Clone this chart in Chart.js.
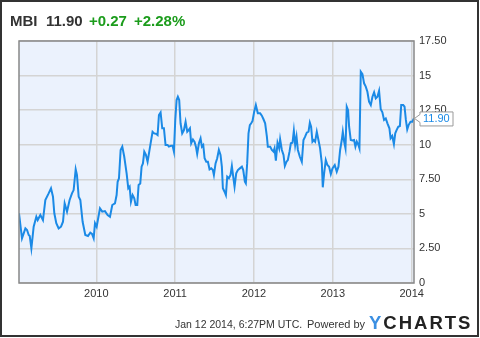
<!DOCTYPE html>
<html>
<head>
<meta charset="utf-8">
<script src="https://cdn.jsdelivr.net/npm/chart.js@4"></script>
<style>
  html, body { margin:0; padding:0; background:#fff; }
  #wrap { position:relative; width:480px; height:338px; overflow:hidden; font-family:"Liberation Sans", Arial, sans-serif; }
  #frame { position:absolute; left:0; top:0; width:475px; height:333px; border:2px solid #333; }
  canvas { position:absolute; left:0; top:0; }
  .t { position:absolute; white-space:nowrap; line-height:1; }
</style>
</head>
<body>
<div id="wrap">
  <canvas id="c" width="480" height="338"></canvas>
  <div id="frame"></div>
  <div class="t" style="left:10px;top:13px;font-size:15px;font-weight:bold;color:#333;">MBI</div>
  <div class="t" style="left:46px;top:13px;font-size:15px;font-weight:bold;color:#333;">11.90</div>
  <div class="t" style="left:89px;top:13px;font-size:15px;font-weight:bold;color:#1c9c1c;">+0.27</div>
  <div class="t" style="left:134px;top:13px;font-size:15px;font-weight:bold;color:#1c9c1c;">+2.28%</div>
  <div class="t" style="left:175px;top:319px;font-size:10.5px;color:#333;">Jan 12 2014, 6:27PM UTC.</div>
  <div class="t" style="left:307px;top:319px;font-size:11px;color:#333;">Powered by</div>
  <div class="t" style="left:369px;top:314px;font-size:18.5px;font-weight:bold;letter-spacing:2px;"><span style="color:#3b8fe2;">Y</span><span style="color:#222;">CHARTS</span></div>
</div>
<script>
const dates = [
  2009.020, 2009.058, 2009.101, 2009.122, 2009.143, 2009.156, 2009.177, 2009.206, 2009.240, 2009.257,
  2009.291, 2009.324, 2009.354, 2009.396, 2009.426, 2009.451, 2009.468, 2009.493, 2009.523, 2009.553,
  2009.578, 2009.599, 2009.629, 2009.662, 2009.692, 2009.713, 2009.739, 2009.755, 2009.777, 2009.798,
  2009.827, 2009.861, 2009.895, 2009.924, 2009.946, 2009.967, 2009.984, 2010.005,
  2010.047, 2010.076, 2010.110, 2010.144, 2010.174, 2010.203, 2010.237, 2010.258, 2010.271, 2010.288,
  2010.309, 2010.330, 2010.355, 2010.385, 2010.406, 2010.423, 2010.440, 2010.461, 2010.482, 2010.499,
  2010.520, 2010.537, 2010.558, 2010.575, 2010.592, 2010.609, 2010.630, 2010.651, 2010.672, 2010.693,
  2010.714, 2010.735, 2010.757, 2010.778, 2010.795, 2010.816, 2010.837, 2010.858, 2010.879, 2010.904,
  2010.921, 2010.947, 2010.968, 2010.985, 2011.002, 2011.019,
  2011.035, 2011.052, 2011.069, 2011.090, 2011.112, 2011.133, 2011.154, 2011.171, 2011.188, 2011.204,
  2011.226, 2011.247, 2011.264, 2011.280, 2011.302, 2011.323, 2011.340, 2011.357, 2011.374, 2011.395,
  2011.416, 2011.437, 2011.458, 2011.479, 2011.492, 2011.513, 2011.534, 2011.555, 2011.576, 2011.593,
  2011.606, 2011.627, 2011.644, 2011.661, 2011.682, 2011.703, 2011.720, 2011.737, 2011.754, 2011.775,
  2011.796, 2011.821, 2011.847, 2011.864, 2011.885, 2011.897, 2011.914, 2011.931, 2011.948, 2011.965,
  2011.982, 2012.003, 2012.024,
  2012.049, 2012.079, 2012.100, 2012.121, 2012.142, 2012.164, 2012.176, 2012.206, 2012.227, 2012.248,
  2012.261, 2012.278, 2012.299, 2012.320, 2012.332, 2012.354, 2012.375, 2012.392, 2012.413, 2012.430,
  2012.451, 2012.468, 2012.489, 2012.506, 2012.523, 2012.540, 2012.557, 2012.582, 2012.607, 2012.628,
  2012.649, 2012.670, 2012.692, 2012.709, 2012.725, 2012.742, 2012.759, 2012.776, 2012.797, 2012.818,
  2012.839, 2012.861, 2012.873, 2012.890, 2012.911, 2012.932, 2012.953, 2012.975, 2012.996,
  2013.025, 2013.050, 2013.072, 2013.093, 2013.114, 2013.127, 2013.144, 2013.161, 2013.177, 2013.194,
  2013.207, 2013.228, 2013.249, 2013.270, 2013.287, 2013.304, 2013.325, 2013.338, 2013.355, 2013.376,
  2013.397, 2013.418, 2013.439, 2013.460, 2013.482, 2013.503, 2013.524, 2013.545, 2013.566, 2013.587,
  2013.608, 2013.629, 2013.650, 2013.672, 2013.693, 2013.718, 2013.733, 2013.754, 2013.775, 2013.792,
  2013.809, 2013.830, 2013.851, 2013.868, 2013.893, 2013.910, 2013.927, 2013.944, 2013.961, 2013.986,
  2014.008, 2014.029
];
const prices = [
  5.04, 3.23, 3.95, 3.83, 3.47, 3.40, 2.51, 4.07, 4.79, 4.55,
  4.92, 4.55, 6.00, 6.48, 6.85, 6.24, 5.04, 4.32, 3.95, 4.07,
  4.43, 5.76, 5.16, 6.00, 6.48, 6.72, 8.22, 7.81, 6.24, 6.00,
  4.43, 3.47, 3.40, 3.64, 3.55, 3.23, 4.32, 4.07,
  5.40, 5.16, 5.20, 4.92, 4.79, 5.64, 5.76, 6.36, 7.32, 7.57,
  9.62, 9.86, 9.13, 7.93, 6.85, 6.97, 5.88, 6.36, 6.12, 5.64,
  5.64, 7.09, 7.20, 8.41, 8.65, 9.50, 9.26, 8.77, 9.50, 10.22,
  10.94, 10.82, 10.80, 10.70, 12.15, 12.34, 11.19, 11.19, 9.98, 9.98,
  9.86, 9.92, 9.92, 9.50, 11.79, 13.23,
  13.47, 13.23, 11.55, 10.82, 11.06, 11.66, 10.94, 11.06, 11.19, 10.10,
  10.38, 10.20, 9.86, 9.33, 10.10, 10.46, 9.86, 9.98, 9.02, 8.77,
  8.77, 8.22, 8.29, 8.17, 7.81, 8.65, 9.02, 9.62, 9.26, 8.41,
  6.85, 6.60, 6.36, 7.69, 7.57, 7.81, 8.46, 7.69, 6.96, 7.93,
  8.17, 8.29, 8.41, 8.17, 7.32, 7.20, 8.65, 10.82, 11.42, 11.55,
  11.72, 12.39, 12.87,
  12.27, 12.27, 12.10, 11.84, 11.55, 10.58, 9.86, 9.86, 9.62, 9.50,
  9.74, 8.84, 10.14, 9.74, 10.39, 9.62, 9.26, 8.46, 8.77, 8.89,
  9.50, 10.10, 10.14, 11.01, 9.98, 10.58, 9.62, 9.13, 8.77, 10.34,
  10.58, 10.87, 10.94, 11.59, 11.30, 10.22, 10.34, 10.22, 10.94, 10.34,
  9.74, 8.65, 6.92, 7.93, 8.89, 8.53, 8.41, 7.88, 8.29,
  8.53, 8.05, 8.41, 9.62, 10.34, 10.94, 10.22, 9.74, 12.75, 12.50,
  11.30, 10.34, 10.30, 10.34, 9.86, 10.22, 9.98, 9.74, 15.28, 15.10,
  14.44, 14.20, 13.83, 13.11, 12.87, 13.47, 13.79, 13.35, 13.47, 13.90,
  12.56, 12.34, 11.79, 11.90, 11.55, 11.19, 10.46, 10.63, 10.05, 10.82,
  11.06, 11.30, 11.35, 12.87, 12.87, 12.75, 11.79, 11.11, 11.42, 11.66,
  11.66, 11.90
];
const xTicks = [2010, 2011, 2012, 2013, 2014];
const yTicks = [0, 2.5, 5, 7.5, 10, 12.5, 15, 17.5];
const lastLabel = "11.90";

const FONT = "'Liberation Sans', Arial, sans-serif";

const framePlugin = {
  id: 'frame',
  beforeDraw(chart) {
    const {ctx, chartArea: a} = chart;
    ctx.save();
    ctx.fillStyle = '#ebf2fd';
    ctx.fillRect(a.left, a.top, a.right - a.left, a.bottom - a.top);
    ctx.restore();
  },
  afterDatasetsDraw(chart) {
    const {ctx, chartArea: a} = chart;
    ctx.save();
    ctx.strokeStyle = '#888888';
    ctx.lineWidth = 1.5;
    ctx.strokeRect(a.left, a.top, a.right - a.left, a.bottom - a.top);
    const y = chart.scales.y.getPixelForValue(prices[prices.length - 1]);
    const tip = a.right + 0.5, bx = a.right + 6, bw = 33, top = y - 6.5, bot = y + 7.5;
    ctx.beginPath();
    ctx.moveTo(bx, top);
    ctx.lineTo(bx + bw, top);
    ctx.lineTo(bx + bw, bot);
    ctx.lineTo(bx, bot);
    ctx.lineTo(bx, y + 4);
    ctx.lineTo(tip, y);
    ctx.lineTo(bx, y - 4);
    ctx.closePath();
    ctx.fillStyle = '#ffffff';
    ctx.fill();
    ctx.strokeStyle = '#9a9a9a';
    ctx.lineWidth = 1;
    ctx.stroke();
    ctx.fillStyle = '#1b8ae6';
    ctx.font = '11px ' + FONT;
    ctx.textBaseline = 'middle';
    ctx.textAlign = 'left';
    ctx.fillText(lastLabel, bx + 3, y + 1);
    ctx.restore();
  }
};

new Chart(document.getElementById('c'), {
  type: 'line',
  data: {
    datasets: [{
      data: dates.map((d, i) => ({x: d, y: prices[i]})),
      borderColor: '#1b8ae6',
      borderWidth: 2,
      pointRadius: 0,
      tension: 0,
      fill: false
    }]
  },
  options: {
    responsive: false,
    animation: false,
    events: [],
    layout: { padding: { left: 19, top: 41, right: 0, bottom: 0 } },
    plugins: { legend: { display: false }, tooltip: { enabled: false } },
    scales: {
      x: {
        type: 'linear',
        min: 2009.02,
        max: 2014.03,
        afterBuildTicks: s => { s.ticks = xTicks.map(v => ({value: v})); },
        afterFit: s => { s.height = 55; },
        grid: { color: '#d4d4d4', drawTicks: false, lineWidth: 1.5 },
        border: { display: false },
        ticks: {
          autoSkip: false, maxRotation: 0, padding: 4,
          color: '#333', font: { family: FONT, size: 11 },
          callback: v => String(v)
        }
      },
      y: {
        position: 'right',
        min: 0,
        max: 17.5,
        afterBuildTicks: s => { s.ticks = yTicks.map(v => ({value: v})); },
        afterFit: s => { s.width = 66; },
        grid: { color: '#d4d4d4', drawTicks: false, lineWidth: 1.5 },
        border: { display: false },
        ticks: {
          padding: 5,
          color: '#333', font: { family: FONT, size: 11 },
          callback: v => (v % 1 === 0 ? String(v) : v.toFixed(2))
        }
      }
    }
  },
  plugins: [framePlugin]
});
</script>
</body>
</html>
